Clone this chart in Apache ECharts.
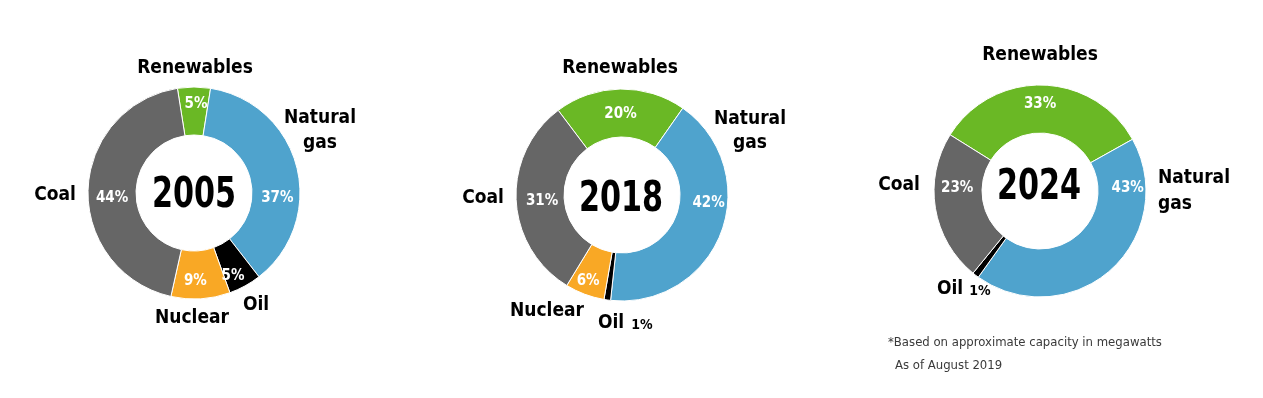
<!DOCTYPE html>
<html>
<head>
<meta charset="utf-8">
<title>Electricity generation mix</title>
<script src="https://cdn.jsdelivr.net/npm/echarts@6/dist/echarts.min.js"></script>
<style>
  html, body { margin: 0; padding: 0; background: #fff; }
  #chart { width: 1263px; height: 398px; }
</style>
</head>
<body>
<div id="chart"></div>
<script>
// data
const years = ['2005', '2018', '2024'];
const names2005 = ['Renewables', 'Natural gas', 'Oil', 'Nuclear', 'Coal'];
const values2005 = [5, 37, 5, 9, 44];
const names2018 = ['Renewables', 'Natural gas', 'Oil', 'Nuclear', 'Coal'];
const values2018 = [20, 42, 1, 6, 31];
const names2024 = ['Renewables', 'Natural gas', 'Oil', 'Coal'];
const values2024 = [33, 43, 1, 23];
const footnote = ['*Based on approximate capacity in megawatts', 'As of August 2019'];

const FONT = '"Liberation Sans Narrow", "DejaVu Sans Condensed", "Arial Narrow", sans-serif';
const colors = {
  'Renewables': '#6ab825',
  'Natural gas': '#4fa3cd',
  'Oil': '#000000',
  'Nuclear': '#f9a825',
  'Coal': '#666666'
};

// layout of each ring; labelShift nudges the % labels like the original artwork
const pies = [
  { names: names2005, values: values2005, center: [194, 193], start: 99,
    labelShift: [[2, -4], [1, 26], [-2, 9], [-4, 3], [3, 8]] },
  { names: names2018, values: values2018, center: [622, 195], start: 127,
    labelShift: [[0, 4], [7, -22], [0, 0], [-4, 7], [5, 2]] },
  { names: names2024, values: values2024, center: [1040, 191], start: 148,
    labelShift: [[-2, -2], [31, -66], [0, 0], [1, -17]] }
];

const chart = echarts.init(document.getElementById('chart'), null, { renderer: 'canvas' });

const series = pies.map((p, i) => ({
  type: 'pie',
  center: p.center,
  radius: [58, 106],
  startAngle: p.start,
  clockwise: true,
  avoidLabelOverlap: false,
  silent: true,
  itemStyle: { borderColor: '#fff', borderWidth: 1 },
  label: {
    show: true,
    position: 'inside',
    formatter: d => (d.value < 3 ? '' : d.value + '%'),
    color: '#fff',
    fontFamily: FONT,
    fontWeight: 'bold',
    fontSize: 15
  },
  labelLayout: params => {
    const s = p.labelShift[params.dataIndex] || [0, 0];
    return { dx: s[0], dy: s[1] };
  },
  labelLine: { show: false },
  data: p.names.map((n, j) => ({
    name: n,
    value: p.values[j],
    itemStyle: { color: colors[n] }
  }))
}));

function txt(x, y, text, opt, sx) {
  return {
    type: 'text',
    x: x,
    y: y,
    scaleX: sx || 1,
    style: Object.assign({
      text: text,
      fill: '#000',
      font: 'bold 19px ' + FONT,
      align: 'center',
      verticalAlign: 'middle'
    }, opt || {})
  };
}

const yearPos = [[194, 196], [621, 200], [1039, 188]];
const graphic = [];
// year in the hole
years.forEach((y, i) => {
  graphic.push(txt(yearPos[i][0], yearPos[i][1], y, { font: 'bold 42px ' + FONT }, 0.8));
});
// category names, chart 1
graphic.push(txt(195, 68, 'Renewables'));
graphic.push(txt(320, 106, 'Natural\ngas', { lineHeight: 25, verticalAlign: 'top' }));
graphic.push(txt(55, 195, 'Coal'));
graphic.push(txt(192, 318, 'Nuclear'));
graphic.push(txt(256, 305, 'Oil'));
// chart 2
graphic.push(txt(620, 68, 'Renewables'));
graphic.push(txt(750, 107, 'Natural\ngas', { lineHeight: 24, verticalAlign: 'top' }));
graphic.push(txt(483, 198, 'Coal'));
graphic.push(txt(547, 311, 'Nuclear'));
graphic.push(txt(611, 323, 'Oil'));
graphic.push(txt(642, 325, '1%', { font: 'bold 14px ' + FONT }));
// chart 3
graphic.push(txt(1040, 55, 'Renewables'));
graphic.push(txt(1158, 165, 'Natural\ngas', { lineHeight: 26, verticalAlign: 'top', align: 'left' }));
graphic.push(txt(899, 185, 'Coal'));
graphic.push(txt(950, 289, 'Oil'));
graphic.push(txt(980, 291, '1%', { font: 'bold 14px ' + FONT }));
// footnote
graphic.push(txt(888, 343, footnote[0], { font: '13px ' + FONT, align: 'left', fill: '#3a3a3a' }));
graphic.push(txt(895, 366, footnote[1], { font: '13px ' + FONT, align: 'left', fill: '#3a3a3a' }));

chart.setOption({
  animation: false,
  series: series,
  graphic: graphic
});
</script>
</body>
</html>
